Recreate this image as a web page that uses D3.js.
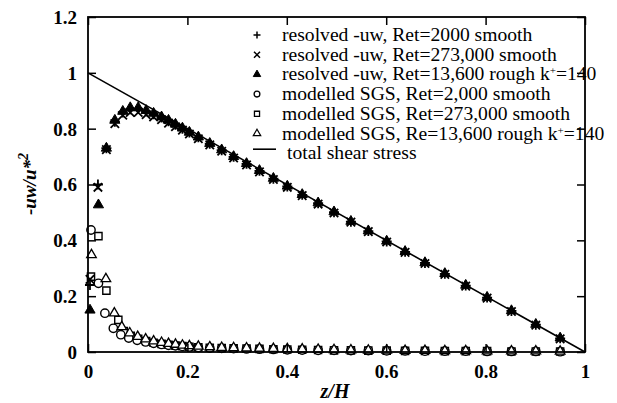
<!DOCTYPE html>
<html><head><meta charset="utf-8">
<script src="https://cdn.jsdelivr.net/npm/d3@7/dist/d3.min.js"></script>
<style>body{margin:0;background:#fff}svg{display:block}text{font-family:"Liberation Serif","Times New Roman",serif}</style>
</head><body>
<script>
// ---- data ----
const xTicks = [0, 0.2, 0.4, 0.6, 0.8, 1];
const yTicks = [0, 0.2, 0.4, 0.6, 0.8, 1, 1.2];
const xTickLabels = ["0", "0.2", "0.4", "0.6", "0.8", "1"];
const yTickLabels = ["0", "0.2", "0.4", "0.6", "0.8", "1", "1.2"];

const zRes = [0.004, 0.020, 0.037, 0.054, 0.070, 0.085, 0.101, 0.117, 0.132, 0.148, 0.162, 0.176, 0.190,
  0.204, 0.222, 0.245, 0.269, 0.293, 0.319, 0.345, 0.373, 0.401, 0.431, 0.463, 0.495, 0.529, 0.564,
  0.601, 0.638, 0.678, 0.718, 0.760, 0.803, 0.852, 0.901, 0.950];
const zResRough = [0.004, 0.021, 0.037, 0.054, 0.070, 0.085, 0.101, 0.117, 0.132, 0.148, 0.162, 0.176, 0.190,
  0.204, 0.222, 0.245, 0.269, 0.293, 0.319, 0.345, 0.373, 0.401, 0.431, 0.463, 0.495, 0.529, 0.564,
  0.601, 0.638, 0.678, 0.718, 0.760, 0.803, 0.852, 0.901, 0.950];
const resolved2000 = [0.24, 0.60, 0.73, 0.825, 0.858, 0.870, 0.872, 0.862, 0.852, 0.840, 0.827, 0.814, 0.800,
  0.786, 0.769, 0.746, 0.723, 0.699, 0.674, 0.649, 0.621, 0.593, 0.563, 0.533, 0.501, 0.467, 0.433,
  0.396, 0.359, 0.319, 0.280, 0.238, 0.195, 0.147, 0.098, 0.049];
const resolved273000 = [0.26, 0.59, 0.725, 0.818, 0.848, 0.858, 0.858, 0.850, 0.842, 0.832, 0.820, 0.807, 0.795,
  0.781, 0.764, 0.742, 0.719, 0.695, 0.670, 0.645, 0.618, 0.590, 0.560, 0.530, 0.498, 0.465, 0.431,
  0.394, 0.357, 0.317, 0.278, 0.236, 0.193, 0.145, 0.096, 0.047];
const resolvedRough = [0.15, 0.527, 0.73, 0.830, 0.862, 0.875, 0.875, 0.865, 0.855, 0.842, 0.830, 0.816, 0.802,
  0.787, 0.770, 0.747, 0.724, 0.700, 0.675, 0.650, 0.622, 0.594, 0.564, 0.534, 0.502, 0.468, 0.434,
  0.397, 0.360, 0.320, 0.281, 0.239, 0.196, 0.148, 0.099, 0.050];

const zSgs = [0.006, 0.021, 0.034, 0.051, 0.066, 0.082, 0.099, 0.116, 0.132, 0.148, 0.162, 0.176, 0.190,
  0.204, 0.222, 0.245, 0.269, 0.293, 0.319, 0.345, 0.373, 0.401, 0.431, 0.463, 0.495, 0.529, 0.564,
  0.601, 0.638, 0.678, 0.718, 0.760, 0.803, 0.852, 0.901, 0.950];
const zSgs273000 = [0.006, 0.021, 0.037, 0.061, 0.072, 0.086, 0.101, 0.117, 0.132, 0.148, 0.162, 0.176, 0.190,
  0.204, 0.222, 0.245, 0.269, 0.293, 0.319, 0.345, 0.373, 0.401, 0.431, 0.463, 0.495, 0.529, 0.564,
  0.601, 0.638, 0.678, 0.718, 0.760, 0.803, 0.852, 0.901, 0.950];
const zSgsRough = [0.007, 0.036, 0.053, 0.068, 0.084, 0.100, 0.116, 0.132, 0.148, 0.162, 0.176, 0.190,
  0.204, 0.222, 0.245, 0.269, 0.293, 0.319, 0.345, 0.373, 0.401, 0.431, 0.463, 0.495, 0.529, 0.564,
  0.601, 0.638, 0.678, 0.718, 0.760, 0.803, 0.852, 0.901, 0.950];
const sgs2000 = [0.437, 0.246, 0.139, 0.085, 0.062, 0.050, 0.042, 0.036, 0.031, 0.027, 0.024, 0.022, 0.020,
  0.018, 0.016, 0.014, 0.013, 0.012, 0.011, 0.010, 0.009, 0.008, 0.007, 0.006, 0.006, 0.005, 0.005,
  0.004, 0.004, 0.003, 0.003, 0.003, 0.002, 0.002, 0.002, 0.001];
const sgs273000 = [0.270, 0.415, 0.220, 0.115, 0.075, 0.058, 0.047, 0.039, 0.033, 0.029, 0.026, 0.023, 0.021,
  0.019, 0.017, 0.015, 0.014, 0.013, 0.012, 0.011, 0.010, 0.009, 0.008, 0.007, 0.006, 0.006, 0.005,
  0.005, 0.004, 0.004, 0.003, 0.003, 0.003, 0.002, 0.002, 0.002];
const sgsRough = [0.348, 0.262, 0.139, 0.090, 0.068, 0.055, 0.046, 0.039, 0.034, 0.030, 0.027, 0.024,
  0.022, 0.020, 0.018, 0.016, 0.015, 0.014, 0.013, 0.012, 0.011, 0.010, 0.009, 0.008, 0.007, 0.006,
  0.006, 0.005, 0.005, 0.004, 0.004, 0.003, 0.003, 0.003, 0.002];

const totalZ = [0, 1];
const totalStress = [1, 0];

const legendLabels = [
  "resolved -uw, Ret=2000 smooth",
  "resolved -uw, Ret=273,000 smooth",
  "resolved -uw, Ret=13,600 rough k|+|=140",
  "modelled SGS, Ret=2,000 smooth",
  "modelled SGS, Ret=273,000 smooth",
  "modelled SGS, Re=13,600 rough k|+|=140",
  "total shear stress"
];

// ---- drawing ----
const W = 617, H = 403;
const m = {left: 88, right: 32, top: 17, bottom: 51};
const svg = d3.select("body").append("svg").attr("width", W).attr("height", H);
const x = d3.scaleLinear().domain([0, 1]).range([m.left, W - m.right]);
const y = d3.scaleLinear().domain([0, 1.2]).range([H - m.bottom, m.top]);

function plus(g, cx, cy, s, sw) {
  g.append("path").attr("d", `M${cx - s},${cy}H${cx + s}M${cx},${cy - s}V${cy + s}`)
    .attr("stroke", "#000").attr("stroke-width", sw).attr("fill", "none");
}
function cross(g, cx, cy, s, sw) {
  g.append("path").attr("d", `M${cx - s},${cy - s}L${cx + s},${cy + s}M${cx - s},${cy + s}L${cx + s},${cy - s}`)
    .attr("stroke", "#000").attr("stroke-width", sw).attr("fill", "none");
}
function sym(g, type, cx, cy, size, filled, sw) {
  g.append("path").attr("d", d3.symbol().type(type).size(size)())
    .attr("transform", `translate(${cx},${cy})`)
    .attr("fill", filled ? "#000" : "#fff").attr("stroke", "#000").attr("stroke-width", sw);
}

// total shear stress line
svg.append("path")
  .attr("d", d3.line().x((d, i) => x(totalZ[i])).y(d => y(d))(totalStress))
  .attr("stroke", "#000").attr("stroke-width", 1.6).attr("fill", "none");

const gm = svg.append("g");
zSgs273000.forEach((z, i) => sym(gm, d3.symbolSquare, x(z), y(sgs273000[i]), 52, false, 1.4));
zSgs.forEach((z, i) => sym(gm, d3.symbolCircle, x(z), y(sgs2000[i]), 55, false, 1.4));
zSgsRough.forEach((z, i) => sym(gm, d3.symbolTriangle, x(z), y(sgsRough[i]), 40, false, 1.3));
zRes.forEach((z, i) => cross(gm, x(z), y(resolved273000[i]), 4.2, 1.8));
zRes.forEach((z, i) => plus(gm, x(z), y(resolved2000[i]), 5, 1.8));
zResRough.forEach((z, i) => sym(gm, d3.symbolTriangle, x(z), y(resolvedRough[i]), 45, true, 1));

// frame
svg.append("rect").attr("x", x(0)).attr("y", y(1.2)).attr("width", x(1) - x(0)).attr("height", y(0) - y(1.2))
  .attr("fill", "none").attr("stroke", "#000").attr("stroke-width", 1.8);

// axes (inward ticks)
const tl = 8;
const axB = svg.append("g").attr("transform", `translate(0,${y(0)})`)
  .call(d3.axisBottom(x).tickValues(xTicks).tickSize(-tl).tickFormat((d, i) => xTickLabels[i]));
const axT = svg.append("g").attr("transform", `translate(0,${y(1.2)})`)
  .call(d3.axisTop(x).tickValues(xTicks).tickSize(-tl).tickFormat(""));
const axL = svg.append("g").attr("transform", `translate(${x(0)},0)`)
  .call(d3.axisLeft(y).tickValues(yTicks).tickSize(-tl).tickFormat((d, i) => yTickLabels[i]));
const axR = svg.append("g").attr("transform", `translate(${x(1)},0)`)
  .call(d3.axisRight(y).tickValues(yTicks).tickSize(-tl).tickFormat(""));
[axT, axR].forEach(a => a.selectAll("text").remove());
[axB, axT, axL, axR].forEach(a => {
  a.select(".domain").remove();
  a.selectAll(".tick line").attr("stroke", "#000").attr("stroke-width", 1.5);
  a.selectAll("text").attr("font-family", "Liberation Serif").attr("font-size", 19).attr("font-weight", "bold").attr("fill", "#000");
});
axB.selectAll("text").attr("y", 13).attr("dy", "0.71em");
axL.selectAll("text").attr("x", -11).attr("dy", "0.34em");

// axis titles
svg.append("text").attr("x", 335).attr("y", 398).attr("text-anchor", "middle")
  .attr("font-size", 20).attr("font-style", "italic").attr("font-weight", "bold").text("z/H");
const yt = svg.append("text").attr("transform", "translate(36,184) rotate(-90)").attr("text-anchor", "middle")
  .attr("font-size", 19).attr("font-style", "italic").attr("font-weight", "bold");
yt.append("tspan").text("-uw/u*");
yt.append("tspan").attr("dy", -8).attr("font-size", 14).text("2");

// legend
const lg = svg.append("g");
const ly0 = 35, ldy = 19.7, lsx = 257, ltx = 282;
legendLabels.forEach((lab, i) => {
  const cy = ly0 + i * ldy;
  const t = lg.append("text").attr("x", i === 6 ? ltx + 5 : ltx).attr("y", cy + 6).attr("font-size", 19.6).attr("fill", "#000");
  const parts = lab.split("|");
  parts.forEach((p, k) => {
    if (k % 2 === 1) t.append("tspan").attr("dy", -6).attr("font-size", 11).text(p);
    else t.append("tspan").attr("dy", k > 0 ? 6 : 0).text(p);
  });
});
const s0 = ly0;
plus(lg, lsx, s0, 3.5, 1.5);
cross(lg, lsx, s0 + ldy, 3, 1.5);
sym(lg, d3.symbolTriangle, lsx, s0 + 2 * ldy, 24, true, 1);
sym(lg, d3.symbolCircle, lsx, s0 + 3 * ldy, 26, false, 1.3);
sym(lg, d3.symbolSquare, lsx, s0 + 4 * ldy, 26, false, 1.3);
sym(lg, d3.symbolTriangle, lsx, s0 + 5 * ldy, 24, false, 1.2);
lg.append("line").attr("x1", 253).attr("x2", 276).attr("y1", s0 + 6 * ldy - 4).attr("y2", s0 + 6 * ldy - 4)
  .attr("stroke", "#000").attr("stroke-width", 1.6);
</script>
</body></html>
